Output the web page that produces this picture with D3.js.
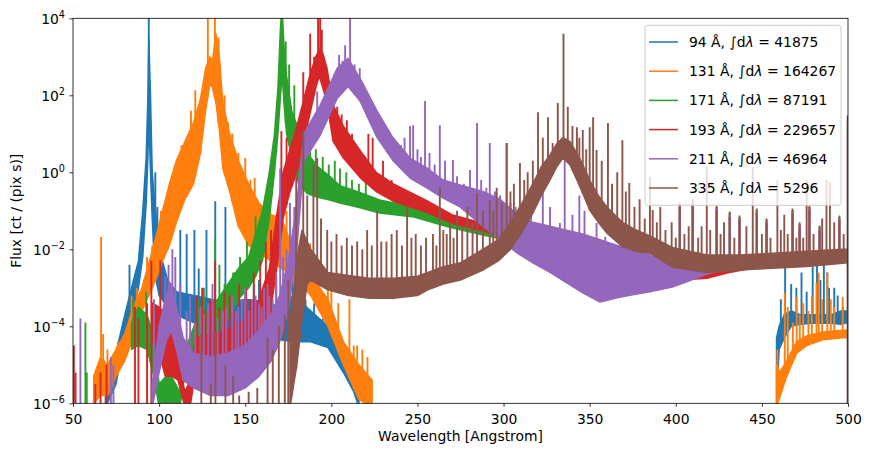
<!doctype html>
<meta charset="utf8">
<style>
  body { margin: 0; background: #fff; }
  svg text { font-family: "DejaVu Sans", sans-serif; fill: #000; }
</style>
<body>
<div id="chart"></div>

<script src="https://d3js.org/d3.v7.min.js"></script>

<script>
(function() {

// channel labels, colours and integrated counts from the legend
const CHANNELS = ["94", "131", "171", "193", "211", "335"];
const TOTALS = ["41875", "164267", "87191", "229657", "46964", "5296"];
const COLORS = ["#1f77b4", "#ff7f0e", "#2ca02c", "#d62728", "#9467bd", "#8c564b"];

const X_TICKS = [50, 100, 150, 200, 250, 300, 350, 400, 450, 500];
const Y_TICK_EXP = [-6, -4, -2, 0, 2, 4];

// dense part of each spectrum: [wavelength, log10 lower, log10 upper]
const band94a = [[68.8,-6.1,-5.2],[72,-5.8,-5.0],[75,-5.5,-4.7],[79,-4.5,-3.9],[84,-3.8,-3.0],[88,-3.0,-2.3],
  [90.5,-2.2,-1.0],[92.5,-0.8,0.4],[93.5,0.4,2.0],[94,1.5,3.5],[95,0.0,2.0],[96,-1.2,0.0],[97.5,-2.6,-0.8],
  [100,-3.2,-2.0],[105,-3.5,-2.8],[110,-3.7,-3.1],[120,-3.9,-3.2],[130,-4.1,-3.3],[140,-4.1,-3.4],
  [150,-4.27,-3.3],[160,-4.25,-3.35],[170,-4.35,-3.5],[178,-4.4,-3.2],[188,-4.4,-3.6],[198,-4.55,-4.0],
  [207,-5.2,-4.8],[213,-5.7,-5.3],[216,-6.1,-5.8]];
const band94b = [[458.5,-6.1,-4.3],[460,-4.6,-4.0],[463,-4.3,-3.7],[467,-4.0,-3.6],[472,-3.95,-3.7],
  [480,-3.92,-3.7],[490,-3.92,-3.7],[496,-3.95,-3.6],[499.8,-3.9,-3.6]];

const band131a = [[62,-6.0,-5.3],[66,-5.8,-4.8],[70,-5.8,-5.0],[75,-5.3,-4.6],[80,-4.9,-4.2],[85,-4.3,-3.5],
  [90,-3.6,-3.0],[95,-3.1,-2.2],[98,-2.8,-1.7],[102,-2.3,-1.0],[106,-1.9,-0.3],[110,-1.3,0.3],[115,-0.7,0.8],
  [120,-0.3,1.3],[124,0.5,1.9],[127,1.6,2.7],[129.5,2.3,3.0],[131,2.2,2.9],[133,1.8,3.6],[135,1.1,3.0],
  [137,0.1,1.8],[141,-0.5,1.0],[146,-1.4,0.3],[152,-1.9,-0.3],[158,-2.1,-0.8],[165,-2.3,-1.1],[171,-2.5,-1.2],
  [178,-2.65,-2.0],[188,-3.2,-2.65],[198,-4.0,-3.3],[207,-5.0,-4.4],[216,-5.9,-5.0],[223.7,-6.1,-5.4]];
const band131b = [[458.5,-6.1,-5.0],[460.3,-5.85,-5.2],[464.4,-5.3,-4.9],[470.2,-4.7,-4.4],[476,-4.5,-4.25],
  [485.3,-4.35,-4.15],[496.9,-4.3,-4.1],[499.8,-4.3,-4.1]];

const band171 = [[84,-4.6,-3.9],[88,-4.5,-3.5],[93,-4.6,-3.7],[97,-5.3,-4.3],[100,-6.1,-5.5],[106,-6.1,-5.2],
  [112,-6.1,-5.7],[116,-5.0,-4.5],[122,-4.6,-3.8],[128,-4.5,-3.6],[134,-4.3,-3.3],[140,-3.8,-2.9],
  [146,-3.3,-2.5],[152,-3.0,-2.2],[156,-2.7,-1.6],[160,-2.3,-1.0],[164,-1.2,0.0],[167,0.0,1.0],[169,1.0,2.2],
  [170.5,2.0,3.8],[171.5,2.5,4.2],[172.5,1.8,3.3],[174,1.0,2.5],[177,0.4,1.6],[181,-0.3,1.1],[186,-0.55,0.5],
  [192,-0.65,0.15],[199,-0.72,-0.1],[205,-0.8,-0.35],[215,-0.9,-0.5],[228,-1.06,-0.72],[248,-1.16,-0.9],
  [268,-1.42,-1.15],[290,-1.65,-1.4],[320,-1.9,-1.65],[360,-2.2,-2.0],[400,-2.6,-2.45],[430,-2.45,-2.35],
  [460,-2.4,-2.3],[499.8,-2.25,-2.2]];

const band193 = [[96,-4.4,-3.4],[100,-4.7,-3.5],[103.6,-5.3,-3.7],[107.7,-5.3,-4.2],[111,-5.4,-4.9],
  [115,-6.1,-5.7],[118,-6.1,-5.4],[121,-5.2,-4.3],[131,-5.2,-4.2],[140,-5.0,-4.1],[150,-4.8,-3.8],
  [158,-4.5,-3.3],[164,-3.8,-2.5],[168,-2.6,-1.2],[172,-1.2,0.0],[176,-0.5,0.6],[180,0.0,1.2],[184,0.8,1.9],
  [188,1.6,2.6],[191,2.2,3.0],[193,2.5,3.2],[195,2.2,3.1],[197.5,1.8,2.7],[201,0.81,1.75],[207,0.37,1.2],
  [217,-0.15,0.55],[226,-0.5,0.0],[236,-0.75,-0.3],[256,-1.05,-0.75],[270,-1.32,-1.1],[290,-1.55,-1.35],
  [320,-1.9,-1.7],[360,-2.3,-2.1],[395,-2.82,-2.55],[418,-2.75,-2.5],[431,-2.6,-2.42],[450,-2.45,-2.3],
  [499.8,-2.3,-2.2]];

const band211 = [[96,-6.1,-5.5],[100,-5.2,-4.0],[104,-4.4,-3.2],[107,-4.1,-2.9],[110,-4.6,-3.5],
  [114,-5.4,-4.3],[120,-5.6,-4.7],[130,-5.8,-4.8],[140,-5.8,-4.7],[150,-5.6,-4.5],[158,-5.3,-4.1],
  [165,-4.9,-3.7],[170,-4.4,-3.2],[175,-3.6,-2.3],[180,-2.0,-0.8],[184,0.3,1.0],[193.5,0.96,1.74],
  [203.4,1.92,2.7],[209.7,2.23,2.96],[216.7,1.85,2.44],[226.6,0.9,1.59],[235.9,0.3,0.89],[245.7,-0.15,0.37],
  [255.6,-0.41,0.11],[264.9,-0.67,-0.2],[274.7,-0.9,-0.33],[288,-1.4,-0.5],[298,-1.75,-0.7],[308,-2.1,-1.1],
  [317,-2.35,-1.3],[327,-2.6,-1.4],[336,-2.85,-1.5],[346,-3.13,-1.6],[356,-3.37,-1.75],[366,-3.26,-1.9],
  [375,-3.18,-2.0],[385,-3.1,-2.15],[398,-2.98,-2.4],[406,-2.85,-2.5],[418,-2.64,-2.45],[431,-2.5,-2.4],
  [450,-2.47,-2.35],[475,-2.43,-2.3],[499.8,-2.32,-2.2]];

const band335 = [[176,-6.1,-4.0],[180,-5.0,-2.2],[183,-3.8,-1.5],[186,-2.9,-1.8],[188,-2.8,-2.0],
  [198,-3.05,-2.6],[210,-3.2,-2.68],[222,-3.27,-2.75],[236,-3.27,-2.75],[250,-3.2,-2.7],[256,-3.05,-2.6],
  [265,-2.9,-2.45],[275,-2.8,-2.35],[288,-2.54,-2.0],[297,-2.3,-1.75],[304,-2.0,-1.3],[310.7,-1.55,-0.8],
  [317,-1.06,-0.3],[322,-0.6,0.15],[327,-0.2,0.45],[331,0.15,0.75],[334.5,0.37,0.9],[338.5,0.2,0.8],
  [342.6,-0.2,0.5],[346,-0.55,0.2],[350,-0.98,-0.2],[355,-1.3,-0.6],[360,-1.58,-0.9],[369,-1.93,-1.3],
  [377,-2.05,-1.5],[385,-2.1,-1.65],[398,-2.46,-1.95],[418,-2.6,-2.15],[437,-2.54,-2.15],[456,-2.49,-2.1],
  [476,-2.45,-2.05],[497,-2.36,-2.0],[499.6,-2.35,-2.0]];

// emission lines: [wavelength, log10 peak, optional log10 base]
const spikes94 = [[82.8,-2.4],[86,-2.9],[94,4.2],[97.8,0.0],[99,-0.9],[112.3,-1.5],[116,-1.6],[120.5,-1.5],
  [123,-2.5],[127.5,-1.5],[132.6,-0.75],[138.5,-0.9],[144,-2.6],[150,-2.4],[155,-2.9],[158,-2.8],[163,-3.0],
  [168,-2.7],[172,-2.8],[175,-2.7],[177.5,-2.7],[180,-2.9],[185,-3.3],[190,-3.4],[195,-3.8],
  [461,-3.3],[463.5,-2.45],[467,-2.9],[470,-3.0],[473,-2.6],[476,-3.1],[479.5,-2.45],[482,-2.35],[484,-2.8],
  [486,-2.4],[488,-2.6],[489,-3.0],[492,-3.0],[494,-3.2],[497,-3.5]];

const spikes131 = [[66.3,-1.68],[67.5,-4.2],[70,-4.6],[76,-4.4],[84,-3.2],[87,-3.0],[93,-2.2],[96,-1.9],
  [101,-1.0],[105,-0.7],[108,-0.02],[111,0.4],[113,0.7],[116,0.9],[118.5,1.6],[121,2.13],[124,1.9],
  [125.5,2.2],[128.3,4.2],[132.4,4.2],[134.5,3.5],[138,2.0],[140,1.3],[142.5,1.0],[146,0.5],[150,0.37],
  [153,-0.2],[155.5,-0.15],[160,-0.9],[164.5,-1.0],[170,-1.1],[174,-1.0],[178,-1.6],[182,-2.0],[187.7,-1.85],
  [193,-2.5],[198,-2.9],[200,-2.9],[204,-3.4],[210.5,-3.3],[213,-4.5],[215,-4.5],[218,-4.6],[221,-4.8],
  [459,-4.6],[463.3,-3.13],[465,-3.5],[468,-3.9],[470.2,-3.24],[472,-3.7],[474,-3.4],[477,-3.6],[479,-3.2],
  [481.7,-2.87],[483,-2.61],[485,-3.3],[488,-2.61],[490,-3.3],[492,-3.5],[496.9,-3.24]];

const spikes171 = [[57.2,-3.9],[58,-5.2],[85,-3.3],[92.5,-3.1],[106,-5.2],[122.6,-3.3],[126,-3.0],[129,-3.5],
  [132.5,-1.7],[135,-2.4],[138,-2.9],[143,-2.6],[147,-2.2],[151,-1.8],[153.5,-2.1],[156,-1.15],[158.5,-1.5],
  [160.6,-1.0],[163,-0.5],[165.5,0.3],[168,1.2],[171,4.2],[173.5,3.4],[175.5,2.8],[178.5,2.26],[183,1.5],
  [187.7,1.2],[191,0.6],[195,0.4],[198.5,0.2],[202,0.3],[205,0.1],[208.7,0.0],[212,-0.2],[216,-0.3],[220,-0.2],
  [402.3,-0.78],[409.8,-0.68],[423.7,-0.86],[431.3,-1.02],[437,-1.12],[447,-0.94],[452.7,-1.2],[467.8,-0.94],
  [471.9,-1.3],[477.6,-0.86],[483.5,-1.38],[495,-1.12],[499.9,1.48,-7]];

const spikes193 = [[50.5,-4.5],[51.5,-5.2],[63,-5.5],[66,-5.2],[69.5,-5.0],[86,-3.5],[88,-3.8],[93,-3.4],
  [95.5,-2.3],[100.7,-2.28],[122,-3.2],[125,-3.0],[127,-3.6],[130,-3.3],[132.5,-2.3],[135,-3.5],[138,-3.1],
  [141,-3.2],[144,-3.6],[146.5,-2.9],[150.5,-3.0],[153,-3.3],[155,-2.6],[158.7,-2.3],[162,-1.8],[165,-1.5],
  [171,1.07],[174,0.9],[177,0.8],[183.7,2.6],
  [187.7,3.6],[190,3.0],[192.3,4.2],[193.5,4.2],[194.5,3.7],[199.3,1.6],[203.4,1.7],[206,1.5],[209,1.35],
  [212,1.0],[215,0.65],[221.5,1.0],[224,0.9],[230,0.3],[235,-0.2],[240,-0.4],
  [402.3,-0.82],[409.8,-0.72],[423.7,-0.9],[431.3,-1.06],[437,-1.16],[447,-0.98],[452.7,-1.24],[467.8,-0.98],
  [471.9,-1.34],[477.6,-0.9],[483.5,-1.42],[495,-1.16],[499.9,1.45,-7]];

const spikes211 = [[54.3,-3.8],[72,-4.8],[73.5,-5.0],[97,-3.3],[103.6,-2.7],[105.5,-2.4],[107.7,-2.0],
  [109.4,-2.2],[112.3,-2.9],[116,-3.6],[118,-3.2],[121,-3.9],[124,-3.5],[126,-3.7],[128.5,-3.4],[131,-2.9],
  [134,-3.8],[137,-3.6],[139,-3.5],[142.5,-3.2],[144.5,-3.6],[146,-3.5],[148,-3.3],[150,-3.0],[152,-3.6],
  [154,-3.3],[156,-3.2],[158,-3.4],[159.5,-3.5],[161,-3.0],[163,-2.9],[164,-3.2],[166,-3.3],[168,-2.6],
  [170.3,0.1],[172,-2.2],[174,-2.0],[176,-0.8],[178.5,-0.9],
  [183.7,0.8],[188,1.2],[191.8,2.1],[197,2.0],[200,2.3],[204.5,3.05],[206.5,2.9],[208,3.3],[210.9,4.2],
  [213.5,2.8],[216.5,2.7],[220.8,1.85],[222.5,1.8],[226,1.0],[228.3,1.2],[229.5,0.8],[231,1.1],[233,0.7],
  [236,0.9],[238.5,0.4],[240.5,0.7],[242.5,0.9],[245.7,1.2],[247.5,1.22],[250,0.6],[252,0.4],[254.4,1.85],
  [257,0.5],[260,0.2],[263,1.22],[266,0.3],[270.6,0.32],[273,-0.1],[277,-0.3],[280.5,0.06],[284.6,1.28],
  [287,-0.2],[290,-0.4],[292,0.76],[295,-0.5],[298,-0.6],[301.8,0.76],[304,-0.8],[307,-0.9],[310,-1.0],
  [313,-0.9],[316,-1.1],[322.8,-0.54],[327,-0.9],[332.7,-1.32],[335.5,0.4],[340,-1.1],[344,-0.6],[347,-1.0],
  [354,-1.32],[359,-1.68],[362,-1.9],[369,-1.76],[373,-2.0],
  [402.3,-0.86],[409.8,-0.76],[423.7,-0.94],[431.3,-1.1],[437,-1.2],[447,-1.02],[452.7,-1.28],[467.8,-1.02],
  [471.9,-1.38],[477.6,-0.94],[483.5,-1.46],[495,-1.2],[499.9,1.2,-7]];

const spikes335 = [[124.5,-4.2],[130,-5.5],[132.7,-4.15],[138.5,-5.0],[143,-5.3],[146.5,-5.8],[152,-5.7],
  [157,-5.6],[163,-4.3],[166,-4.6],[169.5,-4.0],[173,-3.7],[175,-2.8],[177,-3.5],[179.6,0.0],[183.7,1.1],
  [186,-0.6],[189.6,0.2],[191.8,0.37],[194,-1.2],[197.6,-1.5],[200,-1.8],[203,-1.6],[206,-1.9],[209,-1.7],
  [212,-1.9],[215,-1.8],[218,-2.0],[220.8,-1.5],[223.5,-1.9],[226.6,-0.98],[229,-1.8],[232,-1.8],[235,-1.6],
  [238,-1.5],[241,-1.9],[244,-0.9],[246.5,-1.7],[249,-1.6],[252,-1.9],[255,-1.7],[259,-1.6],[261,-1.9],
  [263,-0.38],[265,-1.5],[267,-1.6],[269,-1.3],[271,-1.7],[273,-1.0],[276,-1.4],[279,-0.9],[282,-1.3],
  [284.6,-0.54],[288,-1.0],[292,-0.72],[294,-1.0],[296,-0.4],[299,-0.8],[301.8,0.76],[304,-0.5],[306,-0.3],
  [309.5,0.24],[312,-0.2],[314,0.0],[317,0.3],[320,1.56],[322.8,0.9],[325.8,1.43],[328.5,0.76],[331.5,1.8],
  [334.8,3.6],[337.3,1.7],[340,1.2],[342.6,1.17],[344,0.9],[346,1.1],[348,0.6],[350,1.17],[352,1.43],
  [354,0.58],[357,0.3],[360.6,1.28],[363,-0.3],[366,0.0],[369,0.83],[371,-0.5],[373,-0.28],[376,-0.9],
  [379,-0.7],[382,-1.2],[385,-0.12],[386.6,-0.98],[389,-1.3],[391,-0.9],[394,-1.5],[397.6,-1.3],[400,-1.7],
  [402.3,-0.9],[405,-1.6],[407.5,-1.4],[409.8,-0.8],[413,-1.7],[415,-1.4],[418,0.14],[420,-1.5],[423.7,-0.98],
  [426,-1.6],[428,-1.3],[431.3,-1.16],[434,-1.7],[437,-1.24],[441,-1.4],[444.7,0.14],[447,-1.06],[450,-1.6],
  [452.7,-1.32],[455,-1.7],[459,-0.2],[461,-1.5],[463,-1.1],[465,-1.6],[467.8,-1.06],[470,-1.7],[471.9,-1.42],
  [474,-1.7],[476,-0.2],[477.6,-0.98],[480,-1.6],[483.5,-1.5],[485,-1.2],[487.5,-0.2],[489.5,-0.25],
  [492,-1.3],[495,-1.24],[497.5,-1.6],[499.9,1.35,-7]];

const SERIES = [
  {bands: [band94a, band94b], spikes: spikes94},
  {bands: [band131a, band131b], spikes: spikes131},
  {bands: [band171], spikes: spikes171},
  {bands: [band193], spikes: spikes193},
  {bands: [band211], spikes: spikes211},
  {bands: [band335], spikes: spikes335},
];

const W = 870, H = 456;
const LEFT = 73, RIGHT = 848, TOP = 18.3, BOTTOM = 403.3;

const x = d3.scaleLinear().domain([50, 500]).range([LEFT, RIGHT]);
const y = d3.scaleLog().domain([1e-6, 1e4]).range([BOTTOM, TOP]);
const yl = v => y(Math.pow(10, v));

const svg = d3.select("#chart").append("svg")
  .attr("width", W)
  .attr("height", H);

svg.append("defs").append("clipPath").attr("id", "plot")
  .append("rect")
    .attr("x", LEFT).attr("y", TOP)
    .attr("width", RIGHT - LEFT).attr("height", BOTTOM - TOP);

const plot = svg.append("g").attr("clip-path", "url(#plot)");

const area = d3.area()
  .x(d => x(d[0]))
  .y0(d => yl(d[1]))
  .y1(d => yl(d[2]));

// lower edge of the dense part at a given wavelength, bottom if outside
function baseAt(bands, w) {
  for (let b of bands) {
    if (w < b[0][0] || w > b[b.length - 1][0]) continue;
    for (let i = 0; i < b.length - 1; i++) {
      if (w >= b[i][0] && w <= b[i + 1][0]) {
        const t = (w - b[i][0]) / (b[i + 1][0] - b[i][0]);
        return b[i][1] + t * (b[i + 1][1] - b[i][1]);
      }
    }
  }
  return -7;
}

SERIES.forEach((s, i) => {
  const g = plot.append("g");
  g.selectAll("path")
    .data(s.bands)
    .join("path")
      .attr("d", area)
      .attr("fill", COLORS[i])
      .attr("stroke", COLORS[i])
      .attr("stroke-width", 1.5)
      .attr("stroke-linejoin", "round");

  g.selectAll("line")
    .data(s.spikes)
    .join("line")
      .attr("x1", d => x(d[0]))
      .attr("x2", d => x(d[0]))
      .attr("y1", d => yl(d.length > 2 ? d[2] : baseAt(s.bands, d[0])))
      .attr("y2", d => yl(d[1]))
      .attr("stroke", COLORS[i])
      .attr("stroke-width", 1.9);
});

// axes
const xAxis = svg.append("g")
  .attr("transform", `translate(0,${BOTTOM})`)
  .call(d3.axisBottom(x).tickValues(X_TICKS).tickSize(3.5).tickPadding(3.5));
xAxis.select(".domain").remove();
xAxis.selectAll(".tick line").attr("stroke", "#000").attr("stroke-width", 0.8);
xAxis.selectAll(".tick text")
  .attr("font-family", "DejaVu Sans")
  .attr("font-size", 13.9)
  .attr("y", 0)
  .attr("dy", 0)
  .attr("transform", "translate(0,20.7)");

const yAxis = svg.append("g")
  .attr("transform", `translate(${LEFT},0)`)
  .call(d3.axisLeft(y)
    .tickValues(Y_TICK_EXP.map(e => Math.pow(10, e)))
    .tickSize(3.5)
    .tickFormat(""));
yAxis.select(".domain").remove();
yAxis.selectAll(".tick line").attr("stroke", "#000").attr("stroke-width", 0.8);
yAxis.selectAll(".tick").each(function(d, i) {
  const e = Y_TICK_EXP[i];
  const t = d3.select(this).append("text")
    .attr("x", -8)
    .attr("y", 5.5)
    .attr("text-anchor", "end")
    .attr("font-size", 13.9);
  t.append("tspan").text("10");
  t.append("tspan")
    .attr("dy", -6)
    .attr("font-size", 9.7)
    .text(e < 0 ? "\u2212" + (-e) : String(e));
});

svg.append("rect")
  .attr("x", LEFT).attr("y", TOP)
  .attr("width", RIGHT - LEFT).attr("height", BOTTOM - TOP)
  .attr("fill", "none")
  .attr("stroke", "#000")
  .attr("stroke-width", 0.8);

svg.append("text")
  .attr("x", (LEFT + RIGHT) / 2)
  .attr("y", 441)
  .attr("text-anchor", "middle")
  .attr("font-size", 13.9)
  .text("Wavelength [Angstrom]");

svg.append("text")
  .attr("transform", `translate(21,${(TOP + BOTTOM) / 2}) rotate(-90)`)
  .attr("text-anchor", "middle")
  .attr("font-size", 13.9)
  .text("Flux [ct / (pix s)]");

// legend
const legend = svg.append("g");
legend.append("rect")
  .attr("x", 645).attr("y", 25.3)
  .attr("width", 196).attr("height", 180)
  .attr("rx", 2.8)
  .attr("fill", "#fff")
  .attr("fill-opacity", 0.8)
  .attr("stroke", "#cccccc")
  .attr("stroke-width", 1);

CHANNELS.forEach((ch, i) => {
  const cy = 42 + i * 29.2;
  legend.append("line")
    .attr("x1", 649).attr("x2", 678)
    .attr("y1", cy).attr("y2", cy)
    .attr("stroke", COLORS[i])
    .attr("stroke-width", 1.5);
  const t = legend.append("text")
    .attr("x", 689)
    .attr("y", cy + 5)
    .attr("font-size", 13.9);
  t.append("tspan").text(`${ch} \u00c5, `);
  t.append("tspan").text("\u222b");
  t.append("tspan").text("d");
  t.append("tspan").attr("font-style", "italic").text("\u03bb");
  t.append("tspan").text(` = ${TOTALS[i]}`);
});

})();
</script>
